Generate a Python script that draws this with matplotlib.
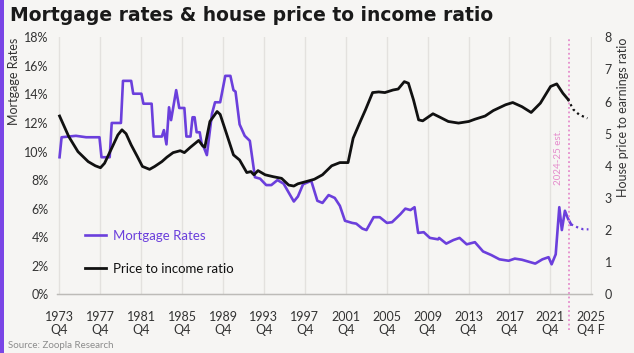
import matplotlib
matplotlib.use("Agg")
import matplotlib.pyplot as plt
from matplotlib.patches import Rectangle

# Mortgage rate (%)
rate_years = [1973.9, 1974.1, 1975.5, 1976.5, 1977.8, 1978.0, 1978.8, 1979.0, 1979.9, 1980.1,
              1980.9, 1981.1, 1981.9, 1982.1, 1982.9, 1983.1, 1983.9, 1984.1, 1984.35, 1984.6,
              1984.8, 1985.3, 1985.6, 1986.1, 1986.3, 1986.7, 1986.9, 1987.1, 1987.3, 1987.6,
              1987.8, 1988.0, 1988.3, 1988.8, 1989.1, 1989.6, 1990.1, 1990.6, 1990.9, 1991.1,
              1991.5, 1992.0, 1992.5, 1993.0, 1993.5, 1994.1, 1994.6, 1995.2, 1995.8, 1996.8,
              1997.2, 1997.7, 1998.5, 1999.1, 1999.6, 2000.2, 2000.8, 2001.3, 2001.8, 2002.5,
              2002.9, 2003.5, 2003.9, 2004.6, 2005.2, 2005.9, 2006.4, 2007.2, 2007.7, 2008.2,
              2008.6, 2008.95, 2009.5, 2010.1, 2010.9, 2011.0, 2011.7, 2012.4, 2013.0, 2013.7,
              2014.5, 2015.3, 2016.1, 2016.9, 2017.8, 2018.4, 2019.1, 2020.4, 2021.1, 2021.7,
              2022.0, 2022.4, 2022.75, 2023.0, 2023.3, 2023.6, 2023.9]
rate_vals = [9.6, 11.0, 11.1, 11.0, 11.0, 9.6, 9.6, 12.0, 12.0, 14.95,
             14.95, 14.05, 14.05, 13.35, 13.35, 11.05, 11.05, 11.5, 10.5, 13.1,
             12.2, 14.3, 13.05, 13.05, 11.05, 11.05, 12.4, 12.4, 11.35, 11.35,
             10.5, 10.3, 9.75, 12.65, 13.45, 13.45, 15.3, 15.3, 14.3, 14.2,
             11.9, 11.1, 10.75, 8.2, 8.1, 7.65, 7.65, 8.0, 7.75, 6.5,
             6.85, 7.7, 7.95, 6.55, 6.4, 6.95, 6.75, 6.2, 5.15, 5.0,
             4.95, 4.6, 4.5, 5.4, 5.4, 5.0, 5.05, 5.6, 6.0, 5.9,
             6.1, 4.3, 4.35, 3.95, 3.85, 3.95, 3.55, 3.8, 3.95, 3.5,
             3.65, 3.0, 2.75, 2.45, 2.35, 2.5, 2.42, 2.15, 2.45, 2.6,
             2.1, 2.8, 6.1, 4.5, 5.85, 5.3, 4.9]
rate_fc_years = [2023.9, 2024.5, 2025.1, 2025.6]
rate_fc_vals = [4.9, 4.7, 4.55, 4.55]

# House price to earnings ratio
ratio_years = [1973.9, 1974.8, 1975.7, 1976.7, 1977.4, 1977.9, 1978.3, 1979.0, 1979.6, 1980.0,
               1980.4, 1980.9, 1981.5, 1982.0, 1982.7, 1983.2, 1983.9, 1984.4, 1985.0, 1985.7,
               1986.1, 1986.7, 1987.5, 1987.9, 1988.1, 1988.6, 1989.3, 1989.6, 1990.2, 1990.9,
               1991.5, 1992.2, 1992.6, 1992.9, 1993.3, 1994.0, 1994.8, 1995.6, 1996.3, 1996.8,
               1997.2, 1997.9, 1998.8, 1999.6, 2000.5, 2001.3, 2002.1, 2002.6, 2003.3, 2003.8,
               2004.5, 2005.1, 2005.7, 2006.5, 2007.0, 2007.6, 2008.0, 2008.5, 2009.0, 2009.4,
               2009.9, 2010.4, 2011.1, 2011.9, 2012.9, 2013.9, 2014.5, 2015.5, 2016.3, 2017.5,
               2018.2, 2019.1, 2020.0, 2020.9, 2021.9, 2022.5, 2023.1, 2023.6]
ratio_vals = [5.55, 4.91, 4.44, 4.13, 4.0, 3.94, 4.08, 4.55, 4.96, 5.12,
              5.0, 4.65, 4.29, 3.98, 3.89, 3.98, 4.13, 4.27, 4.41, 4.47,
              4.41, 4.58, 4.79, 4.62, 4.58, 5.38, 5.69, 5.6, 5.02, 4.34,
              4.18, 3.79, 3.82, 3.72, 3.85, 3.72, 3.66, 3.61, 3.40, 3.37,
              3.44, 3.50, 3.58, 3.72, 4.0, 4.1, 4.1, 4.86, 5.38, 5.74,
              6.28, 6.3, 6.28, 6.36, 6.39, 6.62, 6.57, 6.05, 5.43, 5.40,
              5.51, 5.62, 5.51, 5.38, 5.33, 5.38, 5.45, 5.55, 5.72, 5.9,
              5.97, 5.84, 5.66, 5.95, 6.47, 6.55, 6.26, 6.07]
ratio_fc_years = [2023.6, 2024.1, 2024.7, 2025.5]
ratio_fc_vals = [6.07, 5.76, 5.59, 5.48]

tick_years = [1973.875 + 4 * i for i in range(14)]
tick_labels = [f"{1973 + 4 * i}\nQ4" for i in range(13)] + ["2025\nQ4 F"]
est_year = 2023.65

PURPLE = "#6b3fdc"
BLACK = "#111111"
PINK = "#e58ccc"
BG = "#f6f5f3"
TXT = "#333333"

plt.rcParams["font.family"] = ["Lato", "DejaVu Sans"]

fig = plt.figure(figsize=(6.34, 3.53), dpi=100, facecolor=BG)
ax = fig.add_axes([0.0899, 0.1663, 0.8439, 0.728])
ax.set_facecolor(BG)
ax2 = ax.twinx()

ax.set_xlim(1973.65, 2025.95)
ax.set_ylim(0, 18)
ax2.set_ylim(0, 8)

ax.set_xticks(tick_years)
ax.set_xticklabels(tick_labels, fontsize=9, color=TXT, linespacing=1.1)
ax.set_yticks(range(0, 19, 2))
ax.set_yticklabels([f"{v}%" for v in range(0, 19, 2)], fontsize=9, color=TXT)
ax2.set_yticks(range(0, 9))
ax2.set_yticklabels([str(v) for v in range(0, 9)], fontsize=9, color=TXT)
ax.tick_params(axis="y", length=0, pad=6)
ax.tick_params(axis="x", length=0, pad=12)
ax2.tick_params(length=0, pad=9)

ax.grid(axis="x", color="#e3e1de", lw=1)
ax.set_axisbelow(True)
for a in (ax, ax2):
    for s in ("top", "left", "right"):
        a.spines[s].set_visible(False)
    a.spines["bottom"].set_color("#bdbbb8")
    a.spines["bottom"].set_linewidth(0.9)

ax.plot(rate_years, rate_vals, color=PURPLE, lw=1.9, label="Mortgage Rates", zorder=3)
ax.plot(rate_fc_years, rate_fc_vals, color=PURPLE, lw=1.6, ls=(0, (1, 1.5)), zorder=3)
ax2.plot(ratio_years, ratio_vals, color=BLACK, lw=2.0, zorder=3)
ax2.plot(ratio_fc_years, ratio_fc_vals, color=BLACK, lw=1.6, ls=(0, (1, 1.5)), zorder=3)
# proxy for legend
ax.plot([], [], color=BLACK, lw=2.0, label="Price to income ratio")

ax.axvline(est_year, ymin=-0.14, ymax=1.0, color=PINK, lw=1.3, ls=(0, (1, 1.5)),
           clip_on=False, zorder=4)
ax.text(est_year - 1.0, 9.6, "2024-25 est.", rotation=90, color=PINK, fontsize=7,
        ha="center", va="center")

leg = ax.legend(loc="lower left", bbox_to_anchor=(0.03, 0.03), frameon=False, fontsize=9.5,
                labelcolor="linecolor", handlelength=1.6, handletextpad=0.5, labelspacing=1.6)

ax.text(-0.08, 1.0, "Mortgage Rates", transform=ax.transAxes, rotation=90,
        fontsize=9, color=TXT, ha="center", va="top")
ax2.text(1.057, 1.0, "House price to earnings ratio", transform=ax2.transAxes, rotation=90,
         fontsize=9, color=TXT, ha="center", va="top")

fig.text(0.016, 0.955, "Mortgage rates & house price to income ratio", fontsize=13.5,
         fontweight="bold", color="#1a1a1a", family="DejaVu Sans", ha="left", va="center")
fig.text(0.013, 0.008, "Source: Zoopla Research", fontsize=7, color="#8c8c8c",
         ha="left", va="bottom")
fig.add_artist(Rectangle((0, 0), 0.006, 1, transform=fig.transFigure, color="#7a45e6", lw=0))

fig.savefig("out.png", dpi=100, facecolor=BG)
